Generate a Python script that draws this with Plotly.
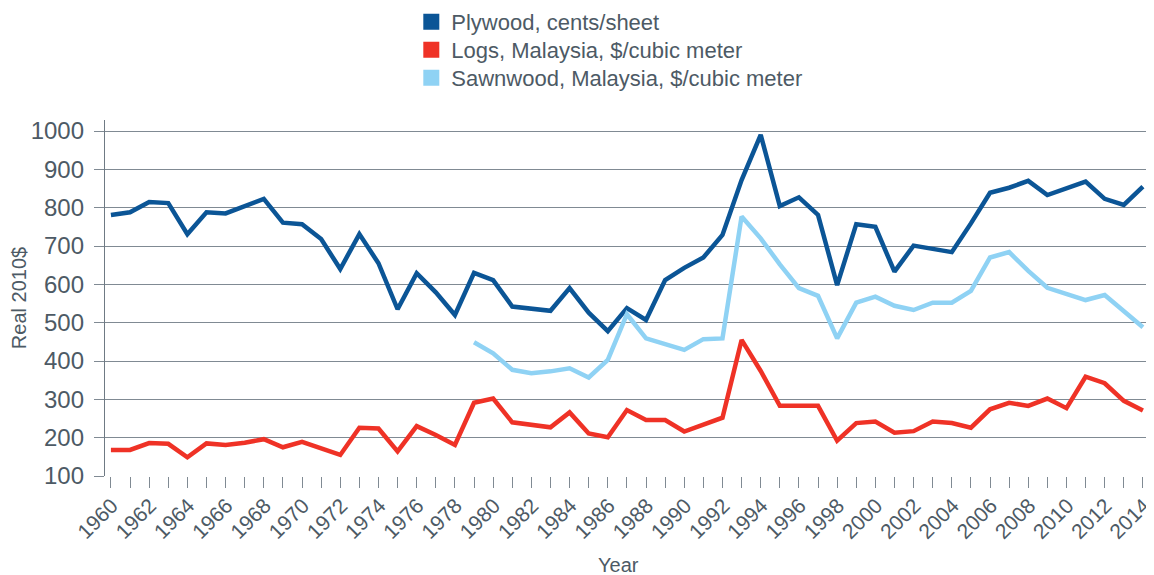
import plotly.graph_objects as go

years = list(range(1960, 2015))

plywood = [781, 788, 815, 812, 731, 788, 785, 803, 823, 761,
           757, 718, 640, 731, 655, 535, 629, 579, 520, 630,
           611, 542, 536, 531, 590, 526, 478, 538, 507, 611,
           643, 670, 729, 872, 990, 804, 827, 781, 598, 757,
           750, 633, 701, 692, 684, 759, 839, 852, 870, 833,
           850, 868, 823, 807, 855]

logs = [168, 168, 186, 184, 149, 185, 181, 187, 196, 175,
        189, 172, 155, 226, 224, 164, 230, 207, 181, 291,
        302, 240, 233, 227, 266, 211, 201, 272, 246, 246,
        216, 234, 252, 455, 374, 283, 283, 283, 192, 238,
        242, 213, 217, 242, 238, 226, 274, 291, 283, 302,
        277, 359, 342, 296, 271]

sawnwood = [None] * 19 + [449, 420, 377, 368, 373, 381, 357, 403, 522, 459,
                          444, 429, 457, 459, 777, 720, 652, 590, 570, 459,
                          552, 568, 544, 533, 552, 552, 583, 670, 684, 635,
                          591, 574, 559, 572, 531, 488]

names = ["Plywood, cents/sheet", "Logs, Malaysia, $/cubic meter",
         "Sawnwood, Malaysia, $/cubic meter"]
colors = ["#0b5596", "#ef3226", "#8fd2f4"]
series = [plywood, logs, sawnwood]

y_ticks = [100, 200, 300, 400, 500, 600, 700, 800, 900, 1000]
x_ticks = list(range(1960, 2015, 2))

TEXT = "#4d5a65"
GRID = "#808a93"
FONT = "Liberation Sans"

# page is offset by the 8px body margin; plot area spans page x 105..1154, y 120..476
PLOT_H = 356.0
legend_rows_y = [22, 50, 78]
legend_ids = ["legend", "legend2", "legend3"]

fig = go.Figure()
for name, col, vals in zip(names, colors, series):
    fig.add_trace(go.Scatter(x=years, y=vals, mode="lines", name=name,
                             line=dict(color=col, width=4.5),
                             showlegend=False, connectgaps=False))
for name, col, lid in zip(names, colors, legend_ids):
    fig.add_trace(go.Scatter(x=[None], y=[None], mode="markers", name=name,
                             marker=dict(symbol="square", size=16, color=col),
                             showlegend=True, legend=lid))

legend_cfg = {}
for lid, ry in zip(legend_ids, legend_rows_y):
    legend_cfg[lid] = dict(x=0.292, y=(476 - ry) / PLOT_H, xanchor="left", yanchor="middle",
                           font=dict(size=22, color=TEXT), bgcolor="rgba(0,0,0,0)",
                           itemclick=False, itemdoubleclick=False)

fig.update_layout(
    width=1146, height=567,
    margin=dict(l=97, r=0, t=112, b=99, pad=0, autoexpand=False),
    paper_bgcolor="white", plot_bgcolor="white",
    font=dict(family=FONT, size=22, color=TEXT),
    showlegend=True,
    **legend_cfg,
)

fig.add_annotation(text="Year", xref="paper", yref="paper",
                   x=(618 - 105) / 1049, y=(476 - 565) / PLOT_H,
                   xanchor="center", yanchor="middle", showarrow=False,
                   font=dict(size=20, color=TEXT))

fig.update_xaxes(
    range=[1959.69, 2014.58], automargin=False,
    tickmode="array", tickvals=x_ticks, ticktext=[str(v) for v in x_ticks],
    tickangle=-45, ticks="outside", ticklen=11, tickwidth=1.3, tickcolor=GRID,
    minor=dict(dtick=1, tick0=1960, ticks="outside", ticklen=11, tickwidth=1.3,
               tickcolor=GRID, showgrid=False),
    showgrid=False, zeroline=False, showline=False,
    ticklabelshift=1, ticklabelstandoff=-3, ticklabeloverflow="allow",
    tickfont=dict(size=21, color=TEXT),
)

fig.update_yaxes(
    range=[100, 1028.7], automargin=False,
    tickmode="array", tickvals=y_ticks,
    ticks="outside", ticklen=10, tickwidth=1.3, tickcolor=GRID,
    showgrid=True, gridcolor=GRID, gridwidth=1.3,
    zeroline=False, showline=True, linecolor="#6f7a84", linewidth=1.3,
    ticklabelstandoff=5,
    title=dict(text="Real 2010$", font=dict(size=20, color=TEXT), standoff=19),
    tickfont=dict(size=24, color=TEXT),
)

fig.write_html("out.html")
